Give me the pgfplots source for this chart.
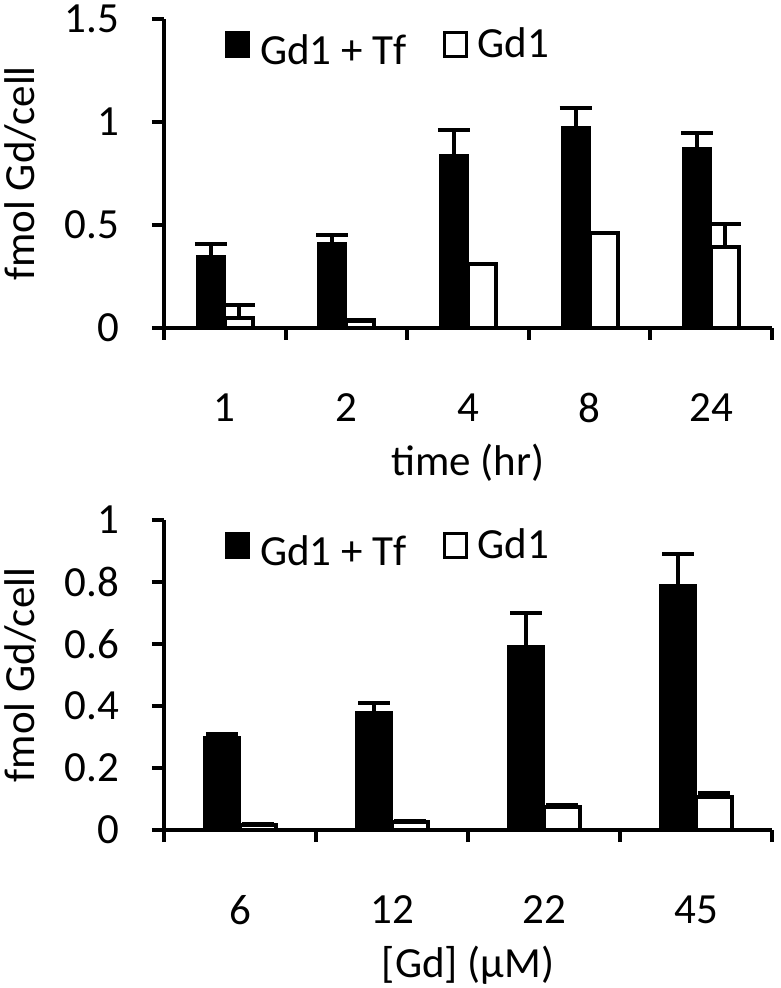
\documentclass[border=0pt]{standalone}
\usepackage{fontspec}
\setmainfont{Carlito}
\usepackage{pgfplots}
\pgfplotsset{compat=1.18}
\pgfplotsset{
  mybars/.style={
    scale only axis,
    width=304pt,
    axis x line*=bottom,
    axis y line*=left,
    axis line style={line width=2pt},
    xmin=0.5, xmax=#1+0.5,
    xtick={1,...,#1},
    minor xtick={0.5,1.5,...,5.5},
    x tick style={draw=none},
    minor x tick style={draw=black, line width=2pt},
    y tick style={draw=black, line width=2pt},
    tick align=outside,
    major tick length=6pt,
    minor tick length=6pt,
    ymin=0,
    font=\fontsize{21.5}{25}\selectfont,
    /pgf/number format/assume math mode=true,
    yticklabel style={xshift=-13pt},
    xticklabel style={anchor=center, yshift=-34pt},
    xlabel style={at={(axis description cs:0.5,0)}, anchor=center, yshift=-67.5pt},
    ylabel style={at={(axis description cs:-0.236,0.5)}, anchor=center},
    ybar=0pt,
    legend columns=2,
    legend style={draw=none, fill=none, at={(rel axis cs:0.1,0.985)}, anchor=north west,
      font=\fontsize{21.5}{25}\selectfont, inner sep=0pt,
      /tikz/every odd column/.style={column sep=3pt},
      /tikz/every even column/.style={column sep=16pt}},
    legend image code/.code={\draw[##1, line width=1.5pt] (0pt,-6pt) rectangle (11pt,6pt);},
    error bars/y dir=plus,
    error bars/y explicit,
    error bars/error bar style={line width=2pt, black},
    error bars/error mark options={rotate=90, mark size=8pt, line width=2pt, black},
  },
}
\begin{document}
\begin{tikzpicture}
\path[use as bounding box] (-82pt,-330pt) rectangle (308pt,164pt);
\begin{axis}[mybars=5,
  at={(0,0)}, anchor=south west,
  height=154.5pt,
  ymax=1.5, ytick={0,0.5,1,1.5},
  yticklabels={0,0.5,1,1.5},
  xticklabels={1,2,4,8,24},
  bar width=14pt,
  xlabel={time (hr)},
  ylabel={fmol Gd/cell},
]
\addplot[fill=black, draw=black, line width=1pt] coordinates {
  (1,0.35) +- (0,0.06)
  (2,0.415) +- (0,0.035)
  (3,0.84) +- (0,0.12)
  (4,0.975) +- (0,0.095)
  (5,0.875) +- (0,0.07)
};
\addlegendentry{\raisebox{-7pt}{Gd1 + Tf}}
\addplot[fill=white, draw=black, line width=2pt] coordinates {
  (1,0.05) +- (0,0.06)
  (2,0.035) +- (0,0.005)
  (3,0.31) +- (0,0.0)
  (4,0.46) +- (0,0.0)
  (5,0.395) +- (0,0.11)
};
\addlegendentry{Gd1}
\end{axis}
\begin{axis}[mybars=4,
  at={(0,-251pt)}, anchor=south west,
  height=155pt,
  ymax=1, ytick={0,0.2,0.4,0.6,0.8,1},
  yticklabels={0,0.2,0.4,0.6,0.8,1},
  xticklabels={6,12,22,45},
  minor xtick={0.5,1.5,...,4.5},
  bar width=18pt,
  xlabel={[Gd] (μM)},
  ylabel={fmol Gd/cell},
]
\addplot[fill=black, draw=black, line width=1pt] coordinates {
  (1,0.30) +- (0,0.01)
  (2,0.38) +- (0,0.03)
  (3,0.595) +- (0,0.105)
  (4,0.79) +- (0,0.10)
};
\addlegendentry{\raisebox{-7pt}{Gd1 + Tf}}
\addplot[fill=white, draw=black, line width=2pt] coordinates {
  (1,0.015) +- (0,0.005)
  (2,0.025) +- (0,0.005)
  (3,0.075) +- (0,0.005)
  (4,0.105) +- (0,0.015)
};
\addlegendentry{Gd1}
\end{axis}
\end{tikzpicture}
\end{document}
